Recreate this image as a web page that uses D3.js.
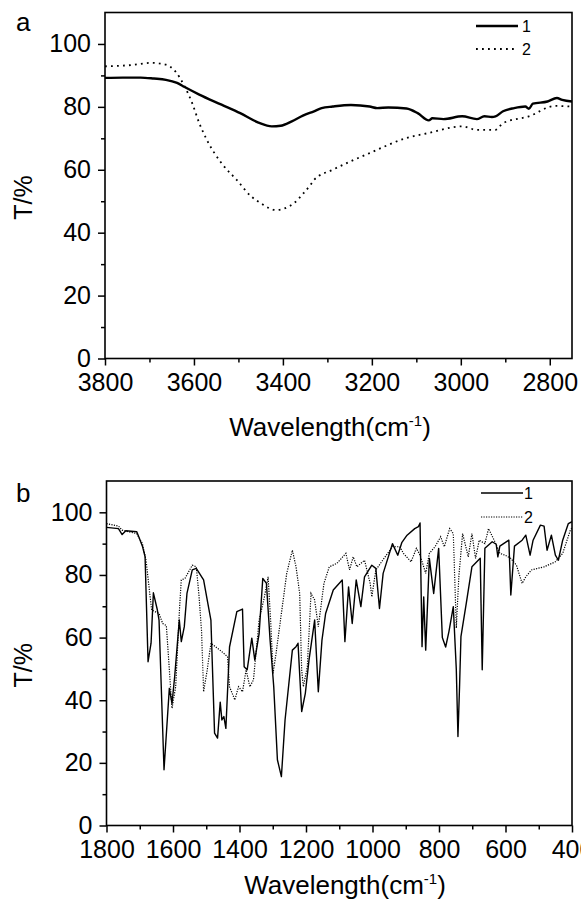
<!DOCTYPE html>
<html>
<head>
<meta charset="utf-8">
<script src="https://cdn.jsdelivr.net/npm/d3@7"></script>
<style>
  body { margin: 0; background: #fff; }
  svg { display: block; font-family: "Liberation Sans", Arial, sans-serif; }
</style>
</head>
<body>
<div id="chart"></div>
<script>
// panel a: 3800-2750 cm-1, [wavenumber, T%]
var a1 = [[3800,89.2],[3760,89.3],[3720,89.3],[3690,89.0],[3663,88.6],[3638,87.6],[3621,86.3],[3588,83.9],[3538,80.7],[3496,78],[3455,75],[3425,73.8],[3405,74],[3380,75.4],[3355,77.2],[3330,78.6],[3313,79.6],[3288,80.1],[3247,80.6],[3205,80.1],[3188,79.6],[3163,79.8],[3122,79.5],[3097,78],[3072,75.7],[3064,76.4],[3039,76.1],[2997,77],[2964,76.1],[2947,77],[2930,76.8],[2922,77],[2905,78.6],[2880,79.6],[2855,80.1],[2847,79.4],[2838,81],[2805,81.7],[2784,82.8],[2772,82.2],[2750,81.7]];
var a2 = [[3800,92.9],[3740,93.3],[3696,94],[3663,93.4],[3642,91.3],[3621,86.5],[3604,81.2],[3588,74.8],[3571,69.5],[3538,62.1],[3504,56.8],[3471,51.5],[3450,49.4],[3416,47.2],[3375,49.4],[3354,52.5],[3338,55.2],[3330,56.8],[3288,60],[3205,65.3],[3122,70.1],[3072,71.7],[2997,73.8],[2964,72.7],[2922,72.7],[2905,74.8],[2847,77],[2788,80.3],[2750,80.1]];

// panel b: 1800-400 cm-1
var b1 = [[1800,95.2],[1764,94.8],[1753,92.9],[1742,94.1],[1709,93.8],[1703,92.2],[1692,89.2],[1684,85.8],[1675,52.3],[1666,58.2],[1659,74.3],[1647,68.8],[1642,65.6],[1627,17.8],[1611,43.8],[1603,39],[1595,47.5],[1586,59.2],[1581,65.6],[1575,58.7],[1566,63.5],[1558,74.1],[1542,81.6],[1530,82.1],[1508,78.4],[1497,72],[1486,65.6],[1475,29.5],[1466,27.9],[1458,39.4],[1453,33.7],[1447,34.8],[1441,31],[1430,57],[1408,68.3],[1391,69.1],[1386,50.7],[1377,49.7],[1363,59.8],[1354,52.8],[1341,61.3],[1330,78.9],[1319,77.3],[1308,59.2],[1297,44.3],[1286,21],[1274,15.6],[1263,33.7],[1241,56],[1230,57.1],[1224,58.2],[1213,36.4],[1202,42.2],[1191,52.8],[1174,65.6],[1163,42.7],[1152,59.2],[1141,67.7],[1118,75.2],[1091,78.4],[1083,58.7],[1072,76.2],[1061,64.5],[1049,78.4],[1035,69.9],[1024,79.4],[1002,83.1],[990,82.1],[979,69.3],[968,80.5],[940,90],[924,86.3],[912,90.3],[896,92.7],[873,94.8],[862,95.4],[857,96.6],[851,57.1],[846,73],[840,56],[829,85.3],[816,74.1],[801,88.5],[790,60],[780,57],[770,62],[757,69.9],[748,50],[743,28.4],[738,45],[734,60.3],[718,70.9],[701,82.6],[676,85.3],[670,49.7],[662,88.5],[640,90.6],[628,89.8],[623,85.8],[617,89.2],[590,91.1],[584,73.6],[573,89.2],[550,91.1],[539,92.7],[526,86.3],[517,91.1],[495,95.9],[484,95.6],[475,87.9],[462,92.7],[450,86.3],[441,84.7],[428,91.1],[411,96.4],[400,97]];
var b2 = [[1800,96.4],[1764,95.6],[1753,94.3],[1709,93.2],[1692,90],[1681,84.7],[1670,74.1],[1664,68.8],[1642,67.7],[1631,64.5],[1620,63.8],[1603,37.4],[1592,44.3],[1580,70],[1575,78.4],[1564,78.9],[1542,83.1],[1530,82.6],[1522,73.6],[1514,62],[1508,42.7],[1497,49.7],[1486,58.2],[1453,55.5],[1436,53.9],[1430,44.3],[1414,40.1],[1403,44.3],[1391,42.7],[1380,49.7],[1369,44.3],[1358,46.5],[1341,65.6],[1325,73],[1314,79.4],[1306,65],[1299,48.6],[1290,55],[1274,67.7],[1258,80.5],[1241,87.9],[1230,82.6],[1219,74.1],[1213,49.7],[1208,44.3],[1196,50.7],[1185,74.1],[1174,72],[1163,63.5],[1146,77.3],[1130,82.6],[1107,83.7],[1080,86.9],[1069,81.6],[1058,85.8],[1047,82.6],[1024,84.7],[1007,77.3],[1002,73],[990,81.6],[962,85.8],[940,89],[918,89],[907,86.9],[884,84.2],[868,88.5],[857,86.3],[840,80.5],[829,86.9],[812,89],[795,92.2],[784,89],[768,94.8],[757,93.2],[748,63],[740,80],[729,93.2],[712,85.8],[701,93.2],[690,85.3],[679,91.1],[662,90],[651,94.8],[634,91.1],[617,86.9],[601,86.3],[584,85.3],[567,83.1],[550,77.3],[539,79.4],[522,81.6],[484,82.6],[450,84.2],[428,86.9],[405,94.3],[400,95]];

var xTicksA = [3800, 3600, 3400, 3200, 3000, 2800];
var xMinorA = [3700, 3500, 3300, 3100, 2900];
var xTicksB = [1800, 1600, 1400, 1200, 1000, 800, 600, 400];
var xMinorB = [1700, 1500, 1300, 1100, 900, 700, 500];
var yTicks = [0, 20, 40, 60, 80, 100];
var yMinor = [10, 30, 50, 70, 90];
var seriesNames = ["1", "2"];

var svg = d3.select("#chart").append("svg")
  .attr("width", 581)
  .attr("height", 907);

function panel(opt) {
  var x = d3.scaleLinear().domain(opt.xDomain).range([opt.left, opt.right]);
  var y = d3.scaleLinear().domain([0, 110]).range([opt.bottom, opt.top]);
  var g = svg.append("g");

  var clipId = "clip" + opt.name;
  svg.append("clipPath").attr("id", clipId)
    .append("rect")
    .attr("x", opt.left).attr("y", opt.top)
    .attr("width", opt.right - opt.left).attr("height", opt.bottom - opt.top);

  // minor ticks
  g.append("g")
    .attr("transform", `translate(0,${opt.bottom})`)
    .call(d3.axisBottom(x).tickValues(opt.xMinor).tickSize(4).tickFormat(""))
    .call(s => s.select(".domain").remove());
  g.append("g")
    .attr("transform", `translate(${opt.left},0)`)
    .call(d3.axisLeft(y).tickValues(yMinor).tickSize(4).tickFormat(""))
    .call(s => s.select(".domain").remove());

  // major ticks + labels
  var xa = g.append("g")
    .attr("transform", `translate(0,${opt.bottom})`)
    .call(d3.axisBottom(x).tickValues(opt.xTicks).tickSize(7).tickPadding(8).tickFormat(d3.format("d")));
  xa.select(".domain").remove();
  var ya = g.append("g")
    .attr("transform", `translate(${opt.left},0)`)
    .call(d3.axisLeft(y).tickValues(yTicks).tickSize(7).tickPadding(7).tickFormat(d3.format("d")));
  ya.select(".domain").remove();
  g.selectAll(".tick text").attr("font-size", "25px").attr("fill", "#000")
    .attr("font-family", "Liberation Sans, Arial, sans-serif");
  g.selectAll(".tick line").attr("stroke", "#000").attr("stroke-width", 1.5);

  // frame
  g.append("rect")
    .attr("x", opt.left).attr("y", opt.top)
    .attr("width", opt.right - opt.left).attr("height", opt.bottom - opt.top)
    .attr("fill", "none").attr("stroke", "#000").attr("stroke-width", 1.6);

  var line = d3.line().x(d => x(d[0])).y(d => y(d[1])).curve(opt.curve);

  var lines = g.append("g").attr("clip-path", `url(#${clipId})`);
  lines.append("path").datum(opt.s2)
    .attr("d", line).attr("fill", "none").attr("stroke", "#000")
    .attr("stroke-width", opt.w2).attr("stroke-dasharray", opt.dash2);
  lines.append("path").datum(opt.s1)
    .attr("d", line).attr("fill", "none").attr("stroke", "#000")
    .attr("stroke-width", opt.w1).attr("stroke-linejoin", "round");

  // legend
  var lg = g.append("g");
  seriesNames.forEach(function(n, i) {
    var ly = opt.legY + i * opt.legGap;
    lg.append("line")
      .attr("x1", opt.legX1).attr("x2", opt.legX2).attr("y1", ly).attr("y2", ly)
      .attr("stroke", "#000")
      .attr("stroke-width", i == 0 ? opt.w1 : opt.w2)
      .attr("stroke-dasharray", i == 0 ? null : opt.dash2);
    lg.append("text")
      .attr("x", opt.legX2 + opt.legPad).attr("y", ly + 6)
      .attr("font-size", "16px")
      .text(n);
  });

  // panel letter
  g.append("text")
    .attr("x", 16).attr("y", opt.top + opt.letterDy)
    .attr("font-size", "26px")
    .text(opt.name);

  // axis titles
  g.append("text")
    .attr("transform", `translate(32,${(opt.top + opt.bottom) / 2 + 12}) rotate(-90)`)
    .attr("text-anchor", "middle")
    .attr("font-size", "25px")
    .text("T/%");

  var t = g.append("text")
    .attr("x", opt.titleX).attr("y", opt.bottom + opt.titleDy)
    .attr("text-anchor", "middle")
    .attr("font-size", "26px");
  t.append("tspan").text("Wavelength(cm");
  t.append("tspan").attr("font-size", "15px").attr("dy", "-10").text("-1");
  t.append("tspan").attr("dy", "10").text(")");
}

panel({
  name: "a", s1: a1, s2: a2,
  xDomain: [3800, 2750], xTicks: xTicksA, xMinor: xMinorA,
  left: 105, right: 572, top: 12.5, bottom: 358.5,
  curve: d3.curveMonotoneX, w1: 2.4, w2: 1.8, dash2: "1.8,4.2",
  legX1: 476, legX2: 518, legPad: 4, legY: 26, legGap: 23,
  letterDy: 18, titleX: 330, titleDy: 77
});

panel({
  name: "b", s1: b1, s2: b2,
  xDomain: [1800, 400], xTicks: xTicksB, xMinor: xMinorB,
  left: 106.5, right: 572, top: 481, bottom: 825.5,
  curve: d3.curveLinear, w1: 1.4, w2: 1.2, dash2: "1.2,1.3",
  legX1: 481, legX2: 523, legPad: 1, legY: 493, legGap: 24,
  letterDy: 21, titleX: 345, titleDy: 68
});
</script>
</body>
</html>
